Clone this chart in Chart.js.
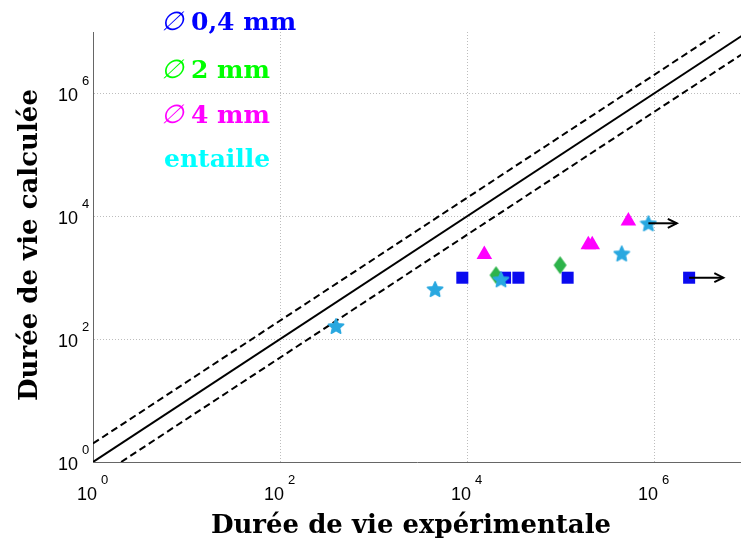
<!DOCTYPE html>
<html><head><meta charset="utf-8">
<script src="https://cdn.jsdelivr.net/npm/chart.js@4.4.1/dist/chart.umd.min.js"></script>
<style>html,body{margin:0;padding:0;background:#fff}</style>
</head><body>
<canvas id="c" width="741" height="542"></canvas>
<script>
// ---- data ----
const xTickValues = [1, 1e2, 1e4, 1e6];
const yTickValues = [1, 1e2, 1e4, 1e6];
const tickExponents = ['0', '2', '4', '6'];

const blueX = [8900, 25500, 35400, 119000, 2370000];
const blueY = [1000, 1000, 1000, 1000, 1000];
const greenX = [20400, 98900];
const greenY = [1100, 1600];
const magentaX = [15300, 198000, 218000, 531000];
const magentaY = [2390, 3440, 3440, 8400];
const starX = [397, 4550, 23100, 451000, 869000];
const starY = [164, 655, 942, 2490, 7690];

const arrowBlueX = [2370000, 5500000];
const arrowBlueY = [1000, 1000];
const arrowStarX = [869000, 1750000];
const arrowStarY = [7690, 7690];

const diagX = [1, 1e7];
const diagY = [1, 1e7];
const upperX = [1, 5e6];
const upperY = [2, 1e7];
const lowerX = [2, 1e7];
const lowerY = [1, 5e6];

const legendLabels = ['0,4 mm', '2 mm', '4 mm', 'entaille'];
const legendColors = ['#0000ff', '#00ff00', '#ff00ff', '#00ffff'];
const xTitle = 'Durée de vie expérimentale';
const yTitle = 'Durée de vie calculée';

const pts = (xs, ys) => xs.map((x, i) => ({x: x, y: ys[i]}));

function makeStar(r, color) {
  const s = document.createElement('canvas');
  const size = Math.ceil(r * 2) + 2;
  s.width = size; s.height = size;
  const c = s.getContext('2d');
  c.fillStyle = color;
  c.strokeStyle = color; c.lineJoin = 'round'; c.lineWidth = 1.5;
  c.beginPath();
  for (let i = 0; i < 10; i++) {
    const a = -Math.PI / 2 + i * Math.PI / 5;
    const rr = i % 2 ? r * 0.47 : r;
    c.lineTo(size / 2 + rr * Math.cos(a), size / 2 + 0.8 + rr * Math.sin(a));
  }
  c.closePath(); c.fill(); c.stroke();
  return s;
}
function makeDiamond(w, h, color) {
  const s = document.createElement('canvas');
  s.width = w + 2; s.height = h + 2;
  const c = s.getContext('2d');
  c.fillStyle = color;
  c.beginPath();
  c.moveTo(s.width / 2, 1); c.lineTo(s.width - 1, s.height / 2);
  c.lineTo(s.width / 2, s.height - 1); c.lineTo(1, s.height / 2);
  c.closePath(); c.fill();
  return s;
}
const starImg = makeStar(8, '#29a8e0');
const diamondImg = makeDiamond(13, 18, '#2db34a');

const textPlugin = {
  id: 'texts',
  afterDatasetsDraw(chart) {
    const ctx = chart.ctx;
    chart.data.datasets.forEach((ds, i) => {
      if (!ds.isArrow) return;
      const meta = chart.getDatasetMeta(i);
      const p = meta.data[meta.data.length - 1];
      ctx.save();
      ctx.strokeStyle = '#000'; ctx.lineWidth = 2;
      ctx.beginPath();
      ctx.moveTo(p.x - 9, p.y - 4.5); ctx.lineTo(p.x, p.y); ctx.lineTo(p.x - 9, p.y + 4.5);
      ctx.stroke();
      ctx.restore();
    });
  },
  afterDraw(chart) {
    const ctx = chart.ctx;
    const xs = chart.scales.x, ys = chart.scales.y;
    ctx.save();
    ctx.fillStyle = '#000';
    xTickValues.forEach((v, i) => {
      const px = xs.getPixelForValue(v);
      ctx.font = '18px "Liberation Sans", Arial, sans-serif';
      ctx.textAlign = 'right'; ctx.textBaseline = 'alphabetic';
      ctx.fillText('10', px + 4, 500);
      ctx.font = '13px "Liberation Sans", Arial, sans-serif';
      ctx.textAlign = 'left';
      ctx.fillText(tickExponents[i], px + 8, 484);
    });
    yTickValues.forEach((v, i) => {
      const py = ys.getPixelForValue(v);
      ctx.font = '18px "Liberation Sans", Arial, sans-serif';
      ctx.textAlign = 'right'; ctx.textBaseline = 'alphabetic';
      ctx.fillText('10', 78, py + 8);
      ctx.font = '13px "Liberation Sans", Arial, sans-serif';
      ctx.textAlign = 'left';
      ctx.fillText(tickExponents[i], 82, py - 8);
    });
    ctx.font = 'bold 26px "DejaVu Serif", serif';
    ctx.textAlign = 'center'; ctx.textBaseline = 'alphabetic';
    ctx.fillText(xTitle, 411, 533);
    ctx.save();
    ctx.translate(37, 245);
    ctx.rotate(-Math.PI / 2);
    ctx.fillText(yTitle, 0, 0);
    ctx.restore();
    const baselines = [30, 78, 123, 167];
    legendLabels.forEach((t, i) => {
      ctx.fillStyle = legendColors[i];
      ctx.textAlign = 'left';
      if (i < 3) {
        ctx.font = 'italic 26px "DejaVu Serif", serif';
        ctx.fillText('\u2205', 161, baselines[i]);
        ctx.font = 'bold 25px "DejaVu Serif", serif';
        ctx.fillText(t, 191, baselines[i]);
      } else {
        ctx.font = 'bold 25px "DejaVu Serif", serif';
        ctx.fillText(t, 164, baselines[i]);
      }
    });
    ctx.restore();
  }
};

const lineDs = (xs, ys, dash, order) => ({
  data: pts(xs, ys), showLine: true, borderColor: '#000', borderWidth: 2,
  borderDash: dash, pointRadius: 0, tension: 0, order: order, fill: false
});

new Chart(document.getElementById('c'), {
  type: 'scatter',
  data: {
    datasets: [
      lineDs(diagX, diagY, [], 10),
      lineDs(upperX, upperY, [7, 4], 10),
      lineDs(lowerX, lowerY, [7, 4], 10),
      {data: pts(blueX, blueY), pointStyle: 'rect', pointRadius: 8.5, backgroundColor: '#0a0af0', borderColor: '#0a0af0', borderWidth: 0, order: 5},
      {data: pts(greenX, greenY), pointStyle: diamondImg, pointRadius: 8, order: 4},
      {data: pts(magentaX, magentaY), pointStyle: 'triangle', pointRadius: 9, backgroundColor: '#ff00ff', borderColor: '#ff00ff', borderWidth: 0, order: 3},
      {data: pts(starX, starY), pointStyle: starImg, pointRadius: 8, order: 2},
      Object.assign(lineDs(arrowBlueX, arrowBlueY, [], 1), {isArrow: true}),
      Object.assign(lineDs(arrowStarX, arrowStarY, [], 1), {isArrow: true})
    ]
  },
  options: {
    responsive: false, animation: false, devicePixelRatio: 1,
    layout: {autoPadding: false, padding: {top: 32, left: 0, right: 0, bottom: 0}},
    plugins: {legend: {display: false}, tooltip: {enabled: false}},
    events: [],
    scales: {
      x: {
        type: 'logarithmic', min: 1, max: 8.5e6,
        afterBuildTicks: s => { s.ticks = xTickValues.map(v => ({value: v})); },
        afterFit: s => { s.height = 80; },
        ticks: {display: false},
        grid: {color: '#bdbdbd', lineWidth: 1, drawTicks: false},
        border: {display: true, color: '#666', width: 1, dash: [1, 2]}
      },
      y: {
        type: 'logarithmic', min: 1, max: 1e7,
        afterBuildTicks: s => { s.ticks = yTickValues.map(v => ({value: v})); },
        afterFit: s => { s.width = 93; },
        ticks: {display: false},
        grid: {color: '#bdbdbd', lineWidth: 1, drawTicks: false},
        border: {display: true, color: '#666', width: 1, dash: [1, 2]}
      }
    }
  },
  plugins: [textPlugin]
});
</script>
</body></html>
